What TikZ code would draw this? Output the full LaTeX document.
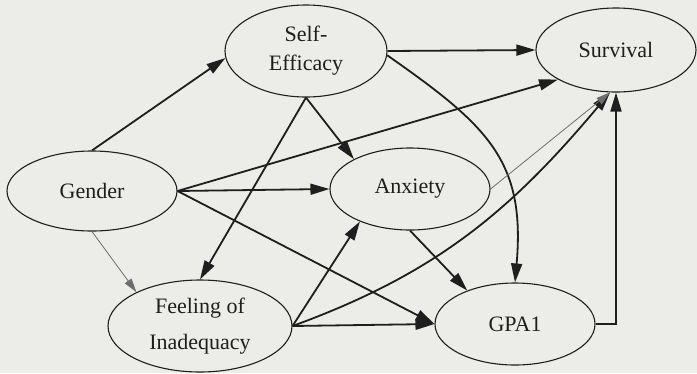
\documentclass[tikz,border=0pt]{standalone}
\usepackage{fontspec}
\setmainfont{Liberation Serif}
\usetikzlibrary{shapes.geometric,arrows.meta}
\definecolor{bgc}{RGB}{236,236,232}
\definecolor{ink}{RGB}{30,30,30}
\tikzset{
  var/.style={ellipse, draw=ink, line width=1.1pt, inner sep=0pt, text=ink,
    font=\fontsize{22}{29}\selectfont, align=center},
  arr/.style={draw=ink, line width=1.8pt, -{Triangle[length=19pt,width=11pt]}},
  thinarr/.style={draw=ink!65, line width=0.8pt, -{Triangle[length=14pt,width=8pt]}}
}
\begin{document}
\begin{tikzpicture}[x=1pt,y=-1pt]
\fill[bgc] (0,0) rectangle (697,373);
\useasboundingbox (0,0) rectangle (697,373);
\node[var, minimum width=162pt, minimum height=92pt] (SE) at (306,51) {Self-\\Efficacy};
\node[var, minimum width=160pt, minimum height=84pt] (S) at (616,50) {Survival};
\node[var, minimum width=170pt, minimum height=80pt] (G) at (92,191) {Gender};
\node[var, minimum width=160pt, minimum height=82pt] (A) at (410,189) {Anxiety};
\node[var, minimum width=184pt, minimum height=92pt] (F) at (200,326) {Feeling of\\[7pt]Inadequacy};
\node[var, minimum width=160pt, minimum height=82pt] (P) at (515,324) {GPA1};
% Gender
\draw[arr] (G.north) -- (SE.185);
\draw[arr] (G.east) -- (A.west);
\draw[arr] (G.east) -- (S.207);
\draw[arr] (G.east) -- (P.west);
\draw[thinarr] (G.south) -- (F.152);
% Self-Efficacy
\draw[arr] (SE.south) -- (F.north);
\draw[arr] (SE.south) -- (A.152);
\draw[arr] (SE.east) -- (S.west);
\draw[arr] (SE.-3) to[out=-35,in=85,looseness=1.2] (P.north);
% Feeling
\draw[arr] (F.east) -- (A.213);
\draw[arr] (F.east) -- (P.west);
\draw[arr] (F.east) to[out=20,in=230] (S.262);
% Anxiety
\draw[arr] (A.south) -- (P.145);
\draw[thinarr] (A.east) -- (S.262);
% GPA1
\draw[arr] (P.east) -| (S.south);
\end{tikzpicture}
\end{document}
